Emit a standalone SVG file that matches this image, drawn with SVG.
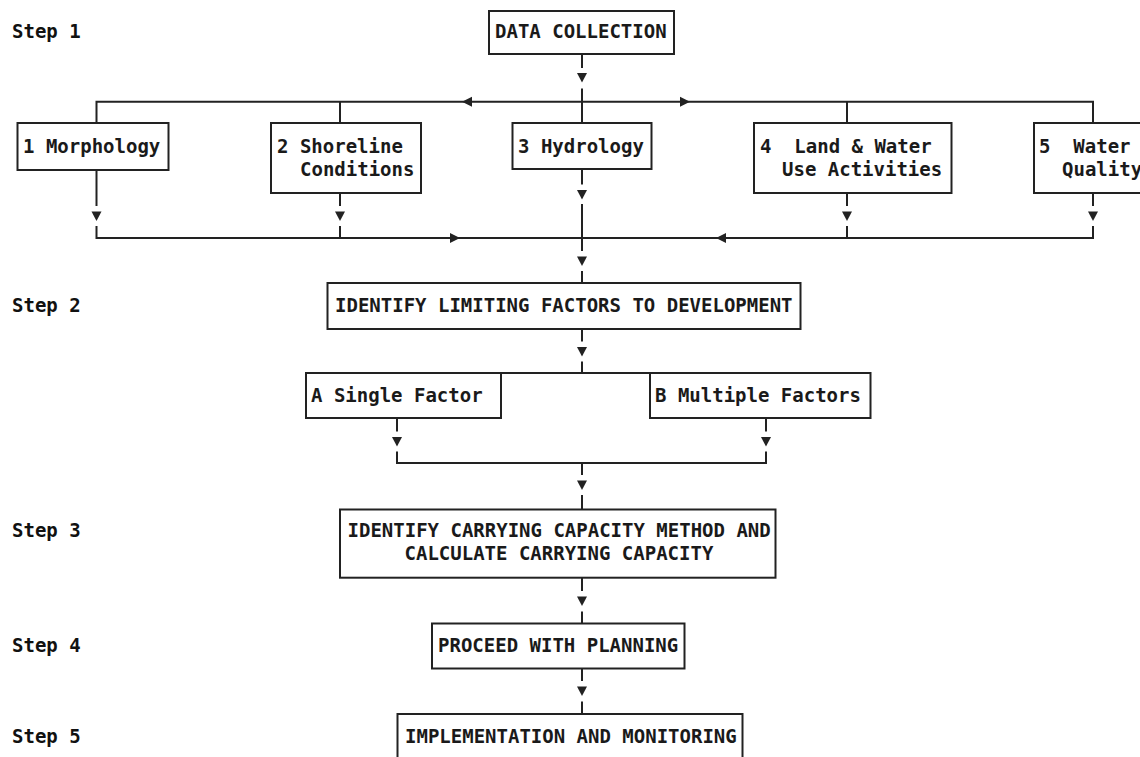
<svg xmlns="http://www.w3.org/2000/svg" xmlns:xlink="http://www.w3.org/1999/xlink" width="1140" height="757" viewBox="0 0 1140 757">
<style>
  .box { fill: #ffffff; stroke: #222222; stroke-width: 2; }
  .t { font-family: "DejaVu Sans Mono", "Liberation Mono", monospace; font-size: 19px; letter-spacing: 0px; fill: #1a1a1a; font-weight: bold; }
  .step { font-family: "DejaVu Sans Mono", "Liberation Mono", monospace; font-size: 19px; letter-spacing: 0px; fill: #111111; font-weight: bold; }
  .ln { fill: none; stroke: #222222; stroke-width: 2; }
  .ah { fill: #222222; }
</style>
<defs>
  <path id="adn" class="ah" d="M-5,0 L5,0 L0,9.5 Z"/>
  <path id="alt" class="ah" d="M0,0 L10,-5 L10,5 Z"/>
  <path id="art" class="ah" d="M0,0 L-10,-5 L-10,5 Z"/>
</defs>
<rect x="0" y="0" width="1140" height="757" fill="#ffffff"/>

<g id="steps">
  <text class="step" x="12" y="38.3">Step 1</text>
  <text class="step" x="12" y="311.7">Step 2</text>
  <text class="step" x="12" y="536.7">Step 3</text>
  <text class="step" x="12" y="651.7">Step 4</text>
  <text class="step" x="12" y="742.7">Step 5</text>
</g>

<g id="connectors">
  <!-- data collection to top bus -->
  <path class="ln" d="M582,54 V68"/>
  <use xlink:href="#adn" x="582" y="73"/>
  <path class="ln" d="M582,88.5 V123"/>
  <!-- top bus -->
  <path class="ln" d="M96.5,123 V101.7 H1093 V123"/>
  <path class="ln" d="M340,101.7 V123"/>
  <path class="ln" d="M847,101.7 V123"/>
  <use xlink:href="#alt" x="462" y="101.7"/>
  <use xlink:href="#art" x="690" y="101.7"/>
  <!-- drops from step-1 boxes -->
  <path class="ln" d="M96.5,170 V206"/>
  <use xlink:href="#adn" x="96.5" y="211.5"/>
  <path class="ln" d="M340,193 V206"/>
  <use xlink:href="#adn" x="340" y="211.5"/>
  <path class="ln" d="M847,193 V206"/>
  <use xlink:href="#adn" x="847" y="211.5"/>
  <path class="ln" d="M1093,193 V206"/>
  <use xlink:href="#adn" x="1093" y="211.5"/>
  <path class="ln" d="M96.5,226 V238 H1093 V226"/>
  <path class="ln" d="M340,226 V238"/>
  <path class="ln" d="M847,226 V238"/>
  <use xlink:href="#art" x="460" y="238"/>
  <use xlink:href="#alt" x="716" y="238"/>
  <!-- hydrology central -->
  <path class="ln" d="M582,169 V184.5"/>
  <use xlink:href="#adn" x="582" y="190"/>
  <path class="ln" d="M582,204 V251"/>
  <use xlink:href="#adn" x="582" y="256.5"/>
  <path class="ln" d="M582,271 V283"/>
  <!-- limiting factors to A/B -->
  <path class="ln" d="M582,329 V341.5"/>
  <use xlink:href="#adn" x="582" y="347"/>
  <path class="ln" d="M582,361.5 V373"/>
  <path class="ln" d="M501,373 H650"/>
  <!-- A/B down -->
  <path class="ln" d="M397,418 V431.5"/>
  <use xlink:href="#adn" x="397" y="437"/>
  <path class="ln" d="M766,418 V431.5"/>
  <use xlink:href="#adn" x="766" y="437"/>
  <path class="ln" d="M397,451.5 V463 H766 V451.5"/>
  <path class="ln" d="M582,463 V475"/>
  <use xlink:href="#adn" x="582" y="480.5"/>
  <path class="ln" d="M582,495 V509.5"/>
  <!-- carrying capacity to planning -->
  <path class="ln" d="M582,577.7 V591"/>
  <use xlink:href="#adn" x="582" y="596.5"/>
  <path class="ln" d="M582,611.5 V623.5"/>
  <!-- planning to implementation -->
  <path class="ln" d="M582,668.5 V681"/>
  <use xlink:href="#adn" x="582" y="686.5"/>
  <path class="ln" d="M582,701.5 V714"/>
</g>

<g id="n-data-collection">
  <rect class="box" x="489" y="11" width="185" height="43"/>
  <text class="t" x="495" y="38.3">DATA COLLECTION</text>
</g>
<g id="n-morphology">
  <rect class="box" x="17.5" y="123" width="151" height="47"/>
  <text class="t" x="23" y="153">1 Morphology</text>
</g>
<g id="n-shoreline">
  <rect class="box" x="271" y="123" width="150" height="70"/>
  <text class="t" x="277" y="153">2 Shoreline</text>
  <text class="t" x="300" y="176">Conditions</text>
</g>
<g id="n-hydrology">
  <rect class="box" x="512.5" y="123" width="139" height="46"/>
  <text class="t" x="518" y="153">3 Hydrology</text>
</g>
<g id="n-land-water">
  <rect class="box" x="754" y="123" width="197.5" height="70"/>
  <text class="t" x="760" y="153" xml:space="preserve">4  Land &amp; Water</text>
  <text class="t" x="782" y="176">Use Activities</text>
</g>
<g id="n-water-quality">
  <rect class="box" x="1034" y="123" width="120" height="70"/>
  <text class="t" x="1039" y="153" xml:space="preserve">5  Water</text>
  <text class="t" x="1062" y="176">Quality</text>
</g>
<g id="n-limiting">
  <rect class="box" x="327.5" y="283" width="473" height="46"/>
  <text class="t" x="335" y="311.7">IDENTIFY LIMITING FACTORS TO DEVELOPMENT</text>
</g>
<g id="n-single">
  <rect class="box" x="306" y="373" width="195" height="45"/>
  <text class="t" x="311" y="401.7">A Single Factor</text>
</g>
<g id="n-multiple">
  <rect class="box" x="650" y="373" width="220.5" height="45"/>
  <text class="t" x="655" y="401.7">B Multiple Factors</text>
</g>
<g id="n-carrying">
  <rect class="box" x="340" y="509.5" width="435.5" height="68.2"/>
  <text class="t" x="347.5" y="536.7">IDENTIFY CARRYING CAPACITY METHOD AND</text>
  <text class="t" x="404.5" y="560">CALCULATE CARRYING CAPACITY</text>
</g>
<g id="n-planning">
  <rect class="box" x="432" y="623.5" width="252.5" height="45"/>
  <text class="t" x="438" y="651.7">PROCEED WITH PLANNING</text>
</g>
<g id="n-implementation">
  <rect class="box" x="397.5" y="714" width="345" height="60"/>
  <text class="t" x="405" y="743">IMPLEMENTATION AND MONITORING</text>
</g>
</svg>
